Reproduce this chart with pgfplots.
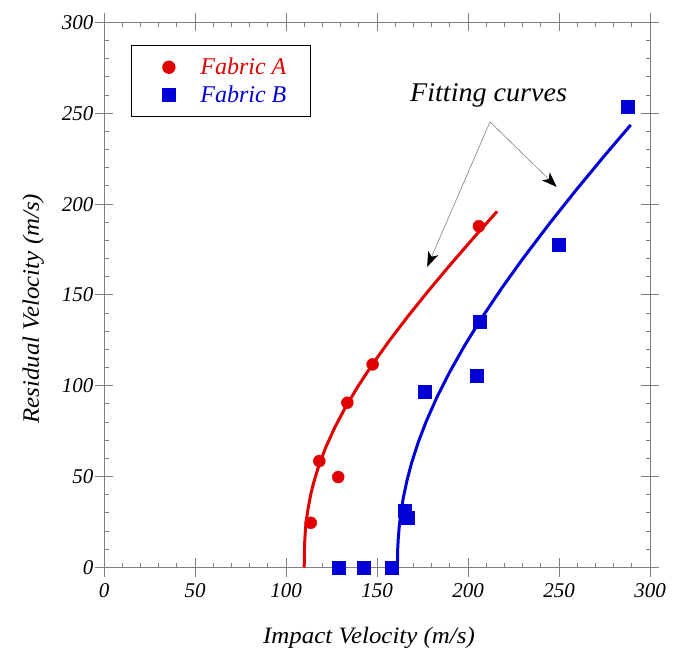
\documentclass[border=0pt]{standalone}
\usepackage{pgfplots}
\pgfplotsset{compat=1.18}
\usepackage{fontspec}
\setmainfont{Liberation Serif}
\newfontfamily\widefont{Liberation Serif}[FakeStretch=1.06]
\newfontfamily\fitfont{Liberation Serif}[FakeStretch=1.04]
\usetikzlibrary{calc,arrows.meta}
\definecolor{fred}{RGB}{225,0,0}
\definecolor{fblue}{RGB}{0,0,215}
\definecolor{axgray}{RGB}{128,128,128}
\begin{document}
\begin{tikzpicture}
\begin{axis}[
  scale only axis, width=546pt, height=545pt,
  xmin=0, xmax=300, ymin=0, ymax=300,
  xtick={0,50,...,300}, ytick={0,50,...,300},
  minor x tick num=4, minor y tick num=4,
  tick align=inside, major tick length=9pt, minor tick length=4.5pt,
  extra x ticks={0,50,...,300}, extra y ticks={0,50,...,300},
  extra x tick labels={}, extra y tick labels={},
  extra tick style={tick align=outside, major tick length=9pt},
  axis line style={axgray, line width=1pt},
  tick style={axgray, line width=1pt},
  /pgf/number format/assume math mode=true,
  tick label style={font=\fontsize{21}{25}\selectfont\itshape},
  xticklabel style={yshift=-12pt},
  yticklabel style={xshift=-7pt},
  every axis x label/.style={at={($(rel axis cs:0.5,0)+(-8pt,-76pt)$)}, anchor=base},
  every axis y label/.style={at={($(rel axis cs:0,0.5)+(-65pt,-13.6pt)$)}, rotate=90, anchor=base},
  label style={font=\widefont\fontsize{23.5}{28}\selectfont\itshape},
  xlabel={Impact Velocity (m/s)},
  ylabel={Residual Velocity (m/s)},
  legend style={at={(rel axis cs:0.049,0.959)}, anchor=north west, draw=black, line width=1.3pt,
    inner xsep=31pt, inner ysep=10.7pt, row sep=5.3pt, column sep=23pt,
    font=\fontsize{24}{28}\selectfont\itshape, cells={anchor=west}},
  legend image code/.code={\draw[#1] plot coordinates {(0pt,0pt)};},
]
\addplot[only marks, mark=*, mark size=6pt, color=fred] coordinates {
 (113.6,24.6) (118.3,58.6) (128.7,49.8) (133.7,90.7) (147.6,111.8) (206,187.9)};
\addlegendentry{\textcolor{fred}{Fabric A}\hspace*{-9pt}}
\addplot[only marks, mark=square*, mark size=6.5pt, color=fblue] coordinates {
 (129.1,0) (142.9,0) (158,0) (165.4,31) (166.6,27.4) (176.4,97) (204.7,105.8) (206.2,135.5) (249.6,177.8) (287.5,253.6)};
\addlegendentry{\textcolor{fblue}{Fabric B}\hspace*{-9pt}}
\addplot[fred, line width=3pt, forget plot, line join=round] coordinates {
 (110,0) (110.2,12.53) (110.5,18.10) (111,24.89) (112,31.64) (113.5,39.74) (115,46.02) (118,55.98) (122,66.53) (127,77.47) (133,88.77) (140,100.44) (148,112.55) (157,125.15) (167,138.28) (178,151.99) (190,166.35) (203,181.40) (216,196.03)};
\addplot[fblue, line width=3pt, forget plot, line join=round] coordinates {
 (161.2,0) (161.4,10.74) (161.7,16.30) (162.2,22.35) (163,29.24) (164.5,38.62) (166.5,48.06) (169,57.52) (172.5,68.47) (177,80.34) (183,93.88) (190,107.73) (198,121.92) (207,136.53) (218,153.00) (230,169.83) (245,189.64) (260,208.52) (275,226.69) (289.4,243.63)};
\draw[axgray, line width=0.6pt, -{Stealth[length=15pt, width=11pt, inset=4pt, black]}] (axis cs:212.1,245.3) -- (axis cs:177.6,165.5);
\draw[axgray, line width=0.6pt, -{Stealth[length=15pt, width=11pt, inset=4pt, black]}] (axis cs:212.1,245.3) -- (axis cs:248.7,209.5);
\node[anchor=base, font=\fitfont\fontsize{27}{31}\selectfont\itshape, inner sep=0pt] at (axis cs:211.3,256.4) {Fitting curves};
\coordinate (sw) at (rel axis cs:0,0);
\coordinate (ne) at (rel axis cs:1,1);
\end{axis}
\pgfresetboundingbox
\path[use as bounding box] ($(sw)+(-104pt,-82pt)$) rectangle ($(ne)+(34pt,22.5pt)$);
\end{tikzpicture}
\end{document}
